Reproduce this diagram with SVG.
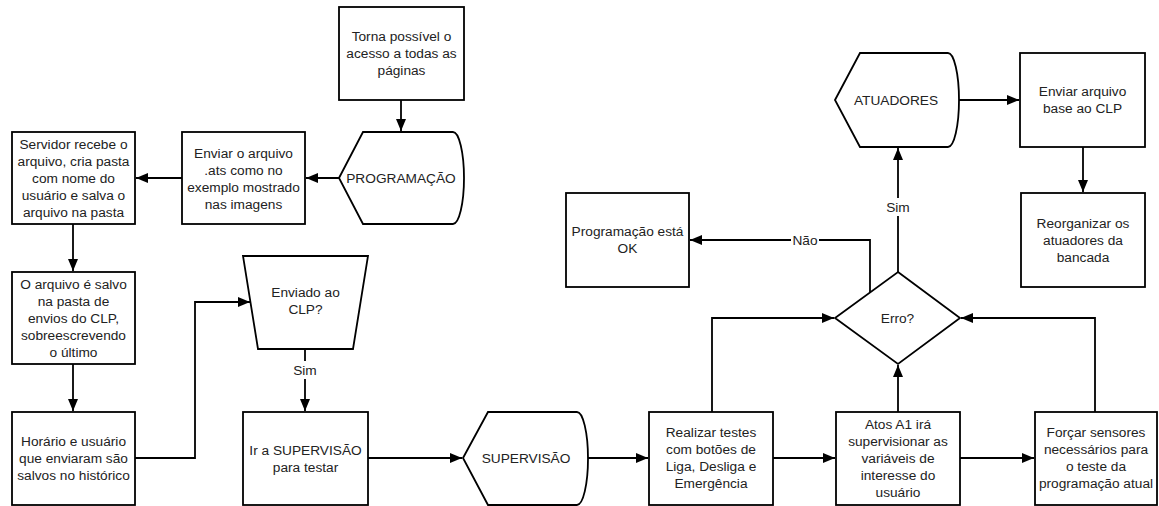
<svg xmlns="http://www.w3.org/2000/svg" width="1159" height="506" viewBox="0 0 1159 506">
<style>
.s{fill:#fff;stroke:#000;stroke-width:1.8}
.t{font-family:"Liberation Sans",Arial,sans-serif;font-size:13.7px;fill:#222;text-anchor:middle}
.c{fill:none;stroke:#000;stroke-width:1.8}
.lb{fill:#fff}
</style>
<defs>
<marker id="a" markerUnits="userSpaceOnUse" markerWidth="13" markerHeight="11" refX="12" refY="5" orient="auto">
<path d="M0,0 L12,5 L0,10 z" fill="#000"/>
</marker>
</defs>
<rect width="1159" height="506" fill="#fff"/>
<g id="connectors">
<path class="c" d="M401,100 V131" marker-end="url(#a)"/>
<path class="c" d="M339,178 H306" marker-end="url(#a)"/>
<path class="c" d="M182,178 H136" marker-end="url(#a)"/>
<path class="c" d="M73,224 V271" marker-end="url(#a)"/>
<path class="c" d="M73,364 V411" marker-end="url(#a)"/>
<path class="c" d="M135,458 H195 V302 H250" marker-end="url(#a)"/>
<path class="c" d="M305,349 V411" marker-end="url(#a)"/>
<path class="c" d="M368,458 H462" marker-end="url(#a)"/>
<path class="c" d="M588,458 H648" marker-end="url(#a)"/>
<path class="c" d="M773,458 H835" marker-end="url(#a)"/>
<path class="c" d="M712,412 V318 H834" marker-end="url(#a)"/>
<path class="c" d="M960,458 H1034" marker-end="url(#a)"/>
<path class="c" d="M898,412 V365" marker-end="url(#a)"/>
<path class="c" d="M1095,412 V318 H961" marker-end="url(#a)"/>
<path class="c" d="M898,272 V148" marker-end="url(#a)"/>
<path class="c" d="M870,292 V240 H690" marker-end="url(#a)"/>
<path class="c" d="M959,100 H1019" marker-end="url(#a)"/>
<path class="c" d="M1083,147 V192" marker-end="url(#a)"/>
<rect class="lb" x="292" y="361" width="26" height="18"/>
<text class="t" x="305" y="375">Sim</text>
<rect class="lb" x="885" y="198" width="26" height="18"/>
<text class="t" x="898" y="212">Sim</text>
<rect class="lb" x="791" y="231" width="28" height="18"/>
<text class="t" x="805" y="245">Não</text>
</g>
<g id="torna">
<rect class="s" x="339" y="7" width="125" height="93"/>
<text class="t" x="401.5" y="41">Torna possível o</text>
<text class="t" x="401.5" y="58">acesso a todas as</text>
<text class="t" x="401.5" y="75">páginas</text>
</g>
<g id="programacao">
<path class="s" d="M339,178 L363,132 H453 A11,46 0 0 1 453,224 H363 Z"/>
<text class="t" x="401" y="183">PROGRAMAÇÃO</text>
</g>
<g id="enviar-arquivo">
<rect class="s" x="182" y="132" width="123" height="92"/>
<text class="t" x="243.5" y="157.5">Enviar o arquivo</text>
<text class="t" x="243.5" y="174.5">.ats como no</text>
<text class="t" x="243.5" y="191.5">exemplo mostrado</text>
<text class="t" x="243.5" y="208.5">nas imagens</text>
</g>
<g id="servidor">
<rect class="s" x="12" y="132" width="123" height="92"/>
<text class="t" x="73.5" y="149">Servidor recebe o</text>
<text class="t" x="73.5" y="166">arquivo, cria pasta</text>
<text class="t" x="73.5" y="183">com nome do</text>
<text class="t" x="73.5" y="200">usuário e salva o</text>
<text class="t" x="73.5" y="217">arquivo na pasta</text>
</g>
<g id="arquivo-salvo">
<rect class="s" x="12" y="272" width="123" height="92"/>
<text class="t" x="73.5" y="289">O arquivo é salvo</text>
<text class="t" x="73.5" y="306">na pasta de</text>
<text class="t" x="73.5" y="323">envios do CLP,</text>
<text class="t" x="73.5" y="340">sobreescrevendo</text>
<text class="t" x="73.5" y="357">o último</text>
</g>
<g id="horario">
<rect class="s" x="12" y="412" width="123" height="93"/>
<text class="t" x="73.5" y="446">Horário e usuário</text>
<text class="t" x="73.5" y="463">que enviaram são</text>
<text class="t" x="73.5" y="480">salvos no histórico</text>
</g>
<g id="enviado">
<path class="s" d="M243,256 H368 L353,349 H258 Z"/>
<text class="t" x="305.5" y="297">Enviado ao</text>
<text class="t" x="305.5" y="314">CLP?</text>
</g>
<g id="ir-supervisao">
<rect class="s" x="243" y="412" width="125" height="93"/>
<text class="t" x="305.5" y="454.5">Ir a SUPERVISÃO</text>
<text class="t" x="305.5" y="471.5">para testar</text>
</g>
<g id="supervisao">
<path class="s" d="M463,458 L488,412 H577 A11,46.5 0 0 1 577,505 H488 Z"/>
<text class="t" x="526" y="462.5">SUPERVISÃO</text>
</g>
<g id="realizar">
<rect class="s" x="649" y="412" width="124" height="93"/>
<text class="t" x="711" y="437">Realizar testes</text>
<text class="t" x="711" y="454">com botões de</text>
<text class="t" x="711" y="471">Liga, Desliga e</text>
<text class="t" x="711" y="488">Emergência</text>
</g>
<g id="atos">
<rect class="s" x="836" y="412" width="124" height="93"/>
<text class="t" x="898" y="428.5">Atos A1 irá</text>
<text class="t" x="898" y="445.5">supervisionar as</text>
<text class="t" x="898" y="462.5">variáveis de</text>
<text class="t" x="898" y="479.5">interesse do</text>
<text class="t" x="898" y="496.5">usuário</text>
</g>
<g id="forcar">
<rect class="s" x="1035" y="412" width="122" height="93"/>
<text class="t" x="1096" y="437">Forçar sensores</text>
<text class="t" x="1096" y="454">necessários para</text>
<text class="t" x="1096" y="471">o teste da</text>
<text class="t" x="1096" y="488">programação atual</text>
</g>
<g id="erro">
<path class="s" d="M898,272 L960,318 L898,364 L835,318 Z"/>
<text class="t" x="897.5" y="323">Erro?</text>
</g>
<g id="programacao-ok">
<rect class="s" x="566" y="193" width="123" height="94"/>
<text class="t" x="627.5" y="236">Programação está</text>
<text class="t" x="627.5" y="253">OK</text>
</g>
<g id="atuadores">
<path class="s" d="M835,100 L860,53 H948 A11,47 0 0 1 948,147 H860 Z"/>
<text class="t" x="896" y="105">ATUADORES</text>
</g>
<g id="enviar-base">
<rect class="s" x="1020" y="53" width="125" height="94"/>
<text class="t" x="1082.5" y="96">Enviar arquivo</text>
<text class="t" x="1082.5" y="113">base ao CLP</text>
</g>
<g id="reorganizar">
<rect class="s" x="1021" y="193" width="124" height="94"/>
<text class="t" x="1083" y="227.5">Reorganizar os</text>
<text class="t" x="1083" y="244.5">atuadores da</text>
<text class="t" x="1083" y="261.5">bancada</text>
</g>
</svg>
